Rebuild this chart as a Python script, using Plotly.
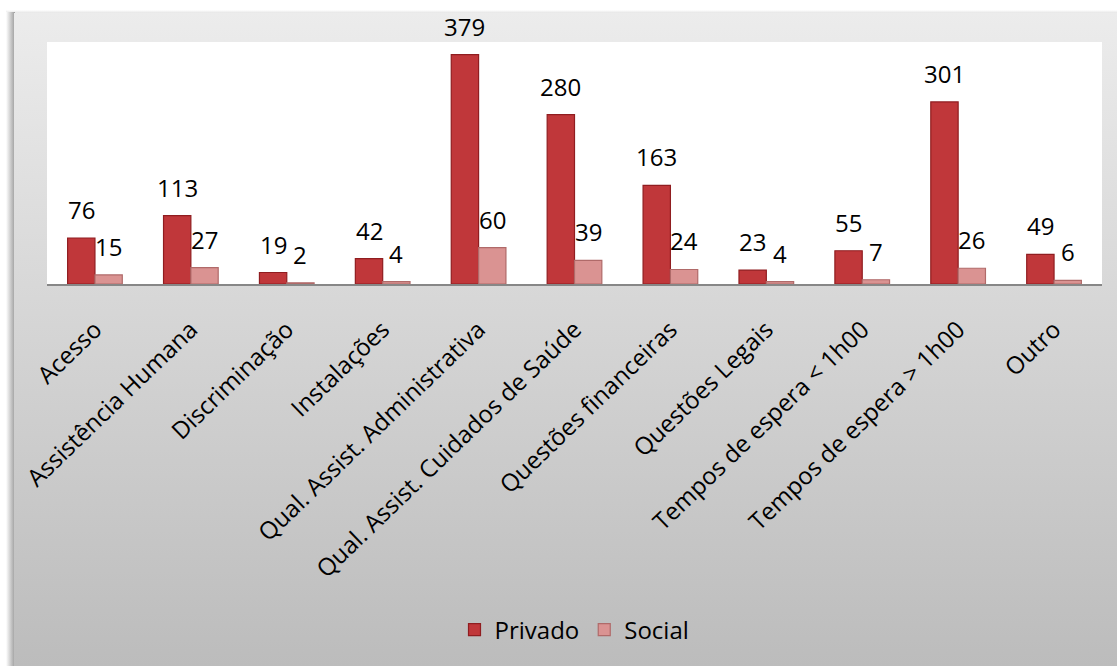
import base64
import plotly.graph_objects as go

# Reclamações por categoria e tipo de prestador
categorias = [
    "Acesso",
    "Assistência Humana",
    "Discriminação",
    "Instalações",
    "Qual. Assist. Administrativa",
    "Qual. Assist. Cuidados de Saúde",
    "Questões financeiras",
    "Questões Legais",
    "Tempos de espera < 1h00",
    "Tempos de espera > 1h00",
    "Outro",
]
privado = [76, 113, 19, 42, 379, 280, 163, 23, 55, 301, 49]
social = [15, 27, 2, 4, 60, 39, 24, 4, 7, 26, 6]

W, H = 1117, 666
ML, MR, MT, MB = 47, 15, 42, 382
PW, PH = W - ML - MR, H - MT - MB
BARGAP = 0.43
FONT = "Open Sans"
FS = 24

# background: page, left shadow, grey gradient frame and white plot area
svg = f"""<svg xmlns='http://www.w3.org/2000/svg' width='{W}' height='{H}' viewBox='0 0 {W} {H}'>
<defs>
<linearGradient id='frame' x1='0' y1='0' x2='0' y2='1'>
<stop offset='0' stop-color='#ececec'/>
<stop offset='1' stop-color='#bbbbbb'/>
</linearGradient>
<linearGradient id='shadow' x1='0' y1='0' x2='1' y2='0'>
<stop offset='0' stop-color='#ffffff'/>
<stop offset='1' stop-color='#9c9c9c'/>
</linearGradient>
<linearGradient id='tshadow' x1='0' y1='0' x2='0' y2='1'>
<stop offset='0' stop-color='#ffffff'/>
<stop offset='1' stop-color='#dddddd'/>
</linearGradient>
</defs>
<rect x='0' y='0' width='{W}' height='{H}' fill='#ffffff'/>
<rect x='6' y='10' width='{W}' height='4' fill='url(#tshadow)'/>
<rect x='6' y='12' width='9' height='{H}' fill='url(#shadow)'/>
<rect x='14' y='13' width='{W}' height='{H}' fill='url(#frame)'/>
<rect x='{ML}' y='{MT}' width='{PW}' height='{PH}' fill='#ffffff'/>
</svg>"""
svg_uri = "data:image/svg+xml;base64," + base64.b64encode(svg.encode()).decode()

fig = go.Figure()
fig.add_trace(go.Bar(
    name="Privado", x=categorias, y=privado,
    marker=dict(color="#c0373a", line=dict(color="#901d20", width=1.2)),
))
fig.add_trace(go.Bar(
    name="Social", x=categorias, y=social,
    marker=dict(color="#da9392", line=dict(color="#b06a69", width=1.2)),
))

# value labels above each bar
cat_px = PW / len(categorias)
half = cat_px * (1 - BARGAP) / 4
annotations = []
for serie, shift in ((privado, -half), (social, half)):
    for c, v in zip(categorias, serie):
        annotations.append(dict(
            x=c, y=v, xref="x", yref="y", text=str(v), showarrow=False,
            xshift=shift, yanchor="bottom", yshift=10,
            font=dict(family=FONT, size=FS, color="#000000"),
        ))

fig.update_layout(
    width=W, height=H,
    margin=dict(l=ML, r=MR, t=MT, b=MB, pad=0),
    paper_bgcolor="#ffffff",
    plot_bgcolor="rgba(0,0,0,0)",
    barmode="group", bargap=BARGAP, bargroupgap=0,
    font=dict(family=FONT, size=FS, color="#000000"),
    xaxis=dict(
        tickangle=-44, showline=True, linecolor="#878787", linewidth=2,
        showgrid=False, ticks="", ticklabelstandoff=20,
        tickfont=dict(family=FONT, size=FS),
    ),
    yaxis=dict(range=[0, 400], visible=False, showgrid=False),
    legend=dict(
        orientation="h", x=0.5, xanchor="center",
        y=(MT + PH - 630) / PH, yanchor="middle", itemwidth=30,
        font=dict(family=FONT, size=FS), bgcolor="rgba(0,0,0,0)",
    ),
    annotations=annotations,
    images=[dict(
        source=svg_uri, xref="paper", yref="paper",
        x=-ML / PW, y=1 + MT / PH, sizex=W / PW, sizey=H / PH,
        xanchor="left", yanchor="top", sizing="stretch", layer="below",
    )],
)

fig.write_html("out.html")
